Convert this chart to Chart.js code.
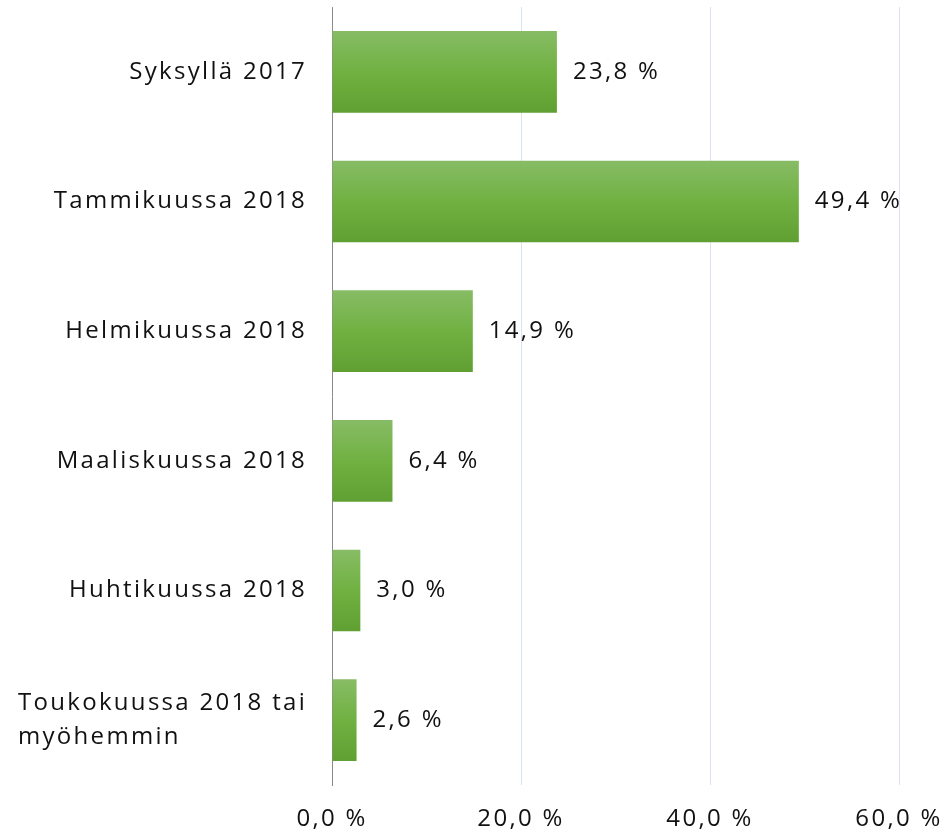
<!DOCTYPE html>
<html>
<head>
<meta charset="utf-8">
<script src="https://cdn.jsdelivr.net/npm/chart.js@4.4.1/dist/chart.umd.min.js"></script>
<style>
  html, body { margin: 0; padding: 0; background: #fff; }
</style>
</head>
<body>
<canvas id="chart" width="941" height="833"></canvas>
<script>
// ===== DATA =====
const categories = [
    "Syksyllä 2017",
    "Tammikuussa 2018",
    "Helmikuussa 2018",
    "Maaliskuussa 2018",
    "Huhtikuussa 2018",
    ["Toukokuussa 2018 tai", "myöhemmin"]
];
const shares = [23.8, 49.4, 14.9, 6.4, 3.0, 2.6];
const xTicks = [0, 20, 40, 60];

// ===== STYLE =====
const FONT = { family: "'Open Sans', sans-serif", size: 24 };
const TEXT_COLOR = "#111111";
const SPACING = "2.3px";
const BAR_PCT = 0.63;

function fmt(v) {
    return v.toFixed(1).replace(".", ",") + " %";
}

// per-bar vertical gradients, built once the layout is known
let grads = [];

const gradientPlugin = {
    id: "gradients",
    afterLayout(chart) {
        const y = chart.scales.y;
        const ctx = chart.ctx;
        const band = (y.bottom - y.top) / categories.length;
        grads = categories.map((c, i) => {
            const mid = y.getPixelForValue(i);
            const h = band * BAR_PCT;
            const g = ctx.createLinearGradient(0, mid - h / 2, 0, mid + h / 2);
            g.addColorStop(0, "#87bc65");
            g.addColorStop(0.5, "#70b142");
            g.addColorStop(1, "#60a032");
            return g;
        });
    }
};

const labelPlugin = {
    id: "labels",
    beforeDraw(chart) {
        chart.ctx.letterSpacing = SPACING;
    },
    afterDatasetsDraw(chart) {
        const ctx = chart.ctx;
        const y = chart.scales.y;
        ctx.save();
        ctx.letterSpacing = SPACING;
        ctx.font = FONT.size + "px " + FONT.family;
        ctx.fillStyle = TEXT_COLOR;
        ctx.textBaseline = "middle";

        // value labels right of the bars
        ctx.textAlign = "left";
        chart.getDatasetMeta(0).data.forEach((bar, i) => {
            ctx.fillText(fmt(shares[i]), bar.x + 16, bar.y);
        });

        // category labels, block right-aligned to the axis, lines left-aligned
        const right = y.right - 25;
        const lineH = 34;
        categories.forEach((cat, i) => {
            const mid = y.getPixelForValue(i);
            const lines = Array.isArray(cat) ? cat : [cat];
            if (lines.length === 1) {
                ctx.textAlign = "right";
                ctx.fillText(lines[0], right, mid);
                return;
            }
            const w = Math.max(...lines.map(l => ctx.measureText(l).width));
            ctx.textAlign = "left";
            lines.forEach((l, k) => {
                const yy = mid + (k - (lines.length - 1) / 2) * lineH;
                ctx.fillText(l, right - w, yy);
            });
        });
        ctx.restore();
    }
};

// ===== CREATE CHART =====
const chart = new Chart(document.getElementById("chart"), {
    type: "bar",
    data: {
        labels: categories,
        datasets: [{
            data: shares,
            backgroundColor: c => grads[c.dataIndex] || "#70b142",
            borderWidth: 0,
            barPercentage: BAR_PCT,
            categoryPercentage: 1
        }]
    },
    options: {
        indexAxis: "y",
        responsive: false,
        animation: false,
        layout: { padding: { left: 0, right: 42, top: 7, bottom: 0 } },
        plugins: {
            legend: { display: false },
            tooltip: { enabled: false }
        },
        scales: {
            x: {
                min: 0,
                max: 60,
                afterBuildTicks: s => { s.ticks = xTicks.map(v => ({ value: v })); },
                afterFit: s => { s.height = 48; s.paddingLeft = 0; s.paddingRight = 0; },
                grid: {
                    color: c => (c.tick && c.tick.value === 0) ? "rgba(0,0,0,0)" : "#dbe3ee",
                    lineWidth: 1,
                    drawTicks: false
                },
                border: { display: false },
                ticks: {
                    font: FONT,
                    color: TEXT_COLOR,
                    padding: 20,
                    maxRotation: 0,
                    callback: v => fmt(v)
                }
            },
            y: {
                afterFit: s => { s.width = 332; },
                grid: { display: true, color: "rgba(0,0,0,0)", drawTicks: false },
                border: { display: true, color: "#8a8a8a", width: 1 },
                ticks: { display: false }
            }
        }
    },
    plugins: [gradientPlugin, labelPlugin]
});
</script>
</body>
</html>
